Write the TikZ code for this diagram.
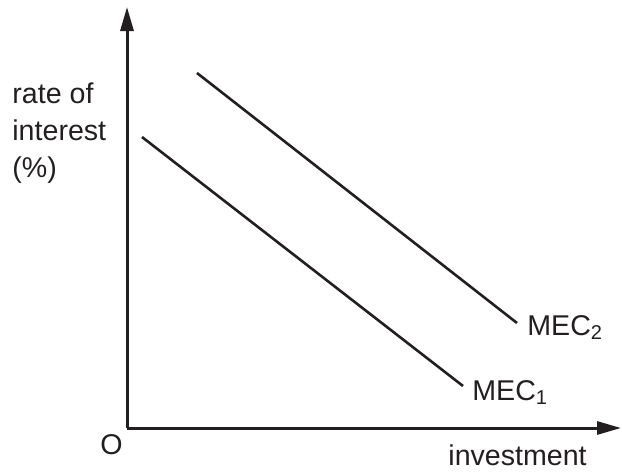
\documentclass[tikz,border=0pt]{standalone}
\usepackage{fontspec}
\setmainfont{Liberation Sans}
\usetikzlibrary{arrows.meta, positioning}
\definecolor{ink}{HTML}{231F20}
\tikzset{
x=0.5pt, y=-0.5pt, % one unit is one pixel of the sketch, y runs downwards
axis/.style={ink, line width=1.5pt, -{Triangle[length=12pt, width=6.5pt]}}, % the two axes
curve/.style={ink, line width=1.3pt}, % the MEC lines
every node/.style={ink, inner sep=0pt, font=\fontsize{14.3}{18.3}\selectfont}, % all labels
}

\begin{document}
\begin{tikzpicture}
    \useasboundingbox (0,0) rectangle (622,472);
    % axes
    \coordinate (origin) at (127,428);
    \coordinate (ytop) at (127,7);
    \coordinate (xend) at (621,428);
    \draw[axis] (origin) -- (ytop);
    \draw[axis] (origin) -- (xend);
    \node[anchor=base west] (o) at (100,454) {O};
    \node[anchor=base west] (xlabel) at (448,465) {investment};
    \node[anchor=base west, align=left] (ylabel) at (12,177) {rate of\\interest\\(\%)};

    % MEC lines
    \coordinate (mecAstart) at (142,137);
    \coordinate (mecAend) at (463,386);
    \coordinate (mecBstart) at (197,73);
    \coordinate (mecBend) at (517,323);
    \draw[curve] (mecAstart) -- (mecAend);
    \draw[curve] (mecBstart) -- (mecBend);
    \node[anchor=base west] (mec1) at (472,400) {MEC\textsubscript{1}};
    \node[anchor=base west] (mec2) at (527,335) {MEC\textsubscript{2}};
\end{tikzpicture}
\end{document}
